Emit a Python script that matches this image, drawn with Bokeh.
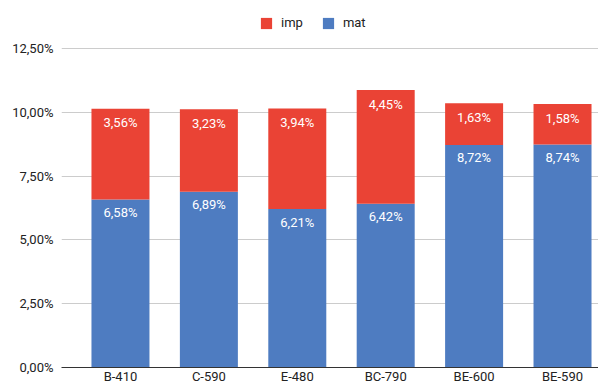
from bokeh.plotting import figure
from bokeh.models import ColumnDataSource, Range1d, FixedTicker, LabelSet, Legend, LegendItem
from bokeh.core.properties import value
from bokeh.embed import file_html
from bokeh.resources import INLINE

categories = ["B-410", "C-590", "E-480", "BC-790", "BE-600", "BE-590"]
mat = [6.58, 6.89, 6.21, 6.42, 8.72, 8.74]
imp = [3.56, 3.23, 3.94, 4.45, 1.63, 1.58]
y_ticks = [0, 2.5, 5, 7.5, 10, 12.5]
y_tick_labels = ["0,00%", "2,50%", "5,00%", "7,50%", "10,00%", "12,50%"]

def fmt(v):
    return f"{v:.2f}".replace(".", ",") + "%"

x = list(range(len(categories)))
top_total = [m + i for m, i in zip(mat, imp)]
src = ColumnDataSource(dict(
    x=x, cat=categories, mat=mat, imp=imp, total=top_total,
    mat_lbl=[fmt(v) for v in mat], imp_lbl=[fmt(v) for v in imp],
))

RED = "#EA4335"
BLUE = "#4E7CC1"
FONT = "Roboto"

p = figure(width=598, height=386, output_backend="svg", toolbar_location=None,
           x_range=Range1d(-0.667, 5.407), y_range=Range1d(0, 14.38),
           min_border_left=61, min_border_right=0, min_border_top=0, min_border_bottom=19)
p.outline_line_color = None
p.background_fill_color = "white"

r = p.vbar_stack(["mat", "imp"], x="x", width=0.656, source=src,
                 color=[BLUE, RED], line_color=None)

p.add_layout(LabelSet(x="x", y="mat", text="mat_lbl", source=src, text_color="white",
                      text_font=value(FONT), text_font_size="13px", text_align="center",
                      text_baseline="middle", y_offset=-13))
p.add_layout(LabelSet(x="x", y="total", text="imp_lbl", source=src, text_color="white",
                      text_font=value(FONT), text_font_size="13px", text_align="center",
                      text_baseline="middle", y_offset=-14))

p.xaxis.ticker = FixedTicker(ticks=x)
p.xaxis.major_label_overrides = {i: c for i, c in zip(x, categories)}
p.yaxis.ticker = FixedTicker(ticks=y_ticks)
p.yaxis.major_label_overrides = {t: l for t, l in zip(y_ticks, y_tick_labels)}

for ax in (p.xaxis, p.yaxis):
    ax.major_tick_line_color = None
    ax.minor_tick_line_color = None
    ax.major_tick_out = 0
    ax.major_tick_in = 0
    ax.minor_tick_out = 0
    ax.minor_tick_in = 0
    ax.major_label_text_font = FONT
    ax.major_label_text_font_size = "13px"
    ax.major_label_text_color = "#222222"
p.yaxis.axis_line_color = None
p.yaxis.major_label_standoff = 8
p.xaxis.axis_line_color = "#333333"
p.xaxis.major_label_standoff = 1
p.xgrid.grid_line_color = None
p.ygrid.ticker = FixedTicker(ticks=y_ticks)
p.ygrid.grid_line_color = "#cccccc"

legend = Legend(items=[LegendItem(label="imp", renderers=[r[1]]),
                       LegendItem(label="mat", renderers=[r[0]])],
                orientation="horizontal", location=(198, 337),
                glyph_width=14, glyph_height=14, label_standoff=8, spacing=18,
                label_text_font=FONT, label_text_font_size="13px", label_text_color="#222222",
                border_line_color=None, background_fill_alpha=0, padding=4, margin=0)
p.add_layout(legend)

open("out.html", "w").write(file_html(p, INLINE))
